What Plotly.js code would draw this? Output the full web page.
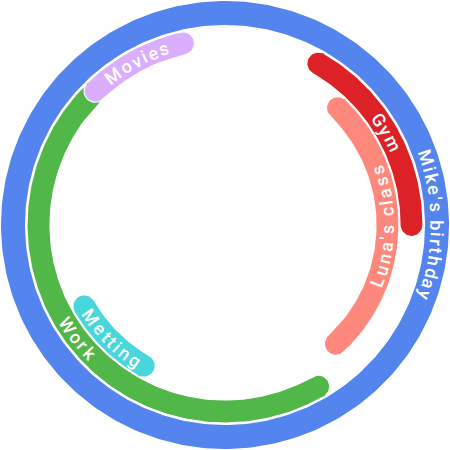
<!DOCTYPE html>
<html>
<head>
<meta charset="utf-8">
<script src="https://cdn.plot.ly/plotly-3.0.1.min.js"></script>
<style>
  html, body { margin: 0; padding: 0; background: #fff; }
  #chart { width: 450px; height: 450px; }
</style>
</head>
<body>
<div id="chart"></div>
<script>
// events, ring index (0 = outer) and clock angles (degrees clockwise from 12 o'clock)
const EVENTS = ["Mike's birthday", 'Work', 'Movies', 'Gym', 'Metting', "Luna's class"];
const RING = [0, 1, 1, 1, 2, 2];
const START = [-90, 150, 316, 30, 210, 44];
const END = [270, 315, 347, 90, 240, 137];
const COLORS = ['#5484ed', '#51b749', '#dbadff', '#dc2127', '#46d6db', '#ff887c'];

// ring geometry in px (axis units are px)
const RING_R = [212, 186.5, 162.5];
const RING_W = [24, 23, 23];
const FONT = { family: 'Roboto, sans-serif', size: 18, color: '#ffffff', weight: 500 };
const SPACING = 2.2;

const rad = (d) => d * Math.PI / 180;

function arcShape(r, w, a0, a1) {
  const x = [], y = [];
  const ro = r + w / 2, ri = r - w / 2;
  const n = Math.max(8, Math.ceil(Math.abs(a1 - a0)));
  const pt = (rr, a) => { x.push(rr * Math.sin(rad(a))); y.push(rr * Math.cos(rad(a))); };
  if (a1 - a0 >= 360) {
    for (let i = 0; i <= n; i++) pt(ro, a0 + (a1 - a0) * i / n);
    for (let i = n; i >= 0; i--) pt(ri, a0 + (a1 - a0) * i / n);
    return { x, y };
  }
  const cap = (a, sign) => {
    const cx = r * Math.sin(rad(a)), cy = r * Math.cos(rad(a));
    const u = [Math.sin(rad(a)), Math.cos(rad(a))];
    const t = [Math.cos(rad(a)), -Math.sin(rad(a))];
    for (let k = 1; k < 24; k++) {
      const p = Math.PI * k / 24;
      x.push(cx + sign * (w / 2) * (Math.cos(p) * u[0] + Math.sin(p) * t[0]));
      y.push(cy + sign * (w / 2) * (Math.cos(p) * u[1] + Math.sin(p) * t[1]));
    }
  };
  for (let i = 0; i <= n; i++) pt(ro, a0 + (a1 - a0) * i / n);
  cap(a1, 1);
  for (let i = n; i >= 0; i--) pt(ri, a0 + (a1 - a0) * i / n);
  cap(a0, -1);
  return { x, y };
}

const canvas = document.createElement('canvas').getContext('2d');
canvas.font = `${FONT.weight} ${FONT.size}px Roboto`;

function curvedLabel(text, r, mid) {
  const flip = mid > 90 && mid < 270;
  const ws = [...text].map((c) => canvas.measureText(c).width);
  const total = ws.reduce((s, v) => s + v + SPACING, 0) - SPACING;
  let acc = 0;
  return [...text].map((c, i) => {
    const off = (acc + ws[i] / 2 - total / 2) / r * 180 / Math.PI;
    acc += ws[i] + SPACING;
    const a = flip ? mid - off : mid + off;
    return {
      x: r * Math.sin(rad(a)), y: r * Math.cos(rad(a)), xref: 'x', yref: 'y',
      text: c === ' ' ? '' : c, showarrow: false, textangle: flip ? a - 180 : a,
      xanchor: 'center', yanchor: 'middle', font: FONT, borderpad: 0,
    };
  });
}

const traces = [];
let annotations = [];
EVENTS.forEach((name, i) => {
  const k = RING[i];
  const s = arcShape(RING_R[k], RING_W[k], START[i], END[i]);
  traces.push({
    x: s.x, y: s.y, type: 'scatter', mode: 'lines', fill: 'toself',
    fillcolor: COLORS[i], line: { color: '#ffffff', width: END[i] - START[i] >= 360 ? 0 : 1.2 },
    hoverinfo: 'skip', showlegend: false,
  });
  annotations = annotations.concat(curvedLabel(name, RING_R[k], (START[i] + END[i]) / 2));
});

Plotly.newPlot('chart', traces, {
  width: 450, height: 450,
  margin: { l: 0, r: 0, t: 0, b: 0 },
  paper_bgcolor: '#ffffff', plot_bgcolor: '#ffffff',
  showlegend: false,
  xaxis: { range: [-225, 225], visible: false, fixedrange: true },
  yaxis: { range: [-225, 225], visible: false, fixedrange: true },
  annotations,
}, { displayModeBar: false, staticPlot: true });
</script>
</body>
</html>
